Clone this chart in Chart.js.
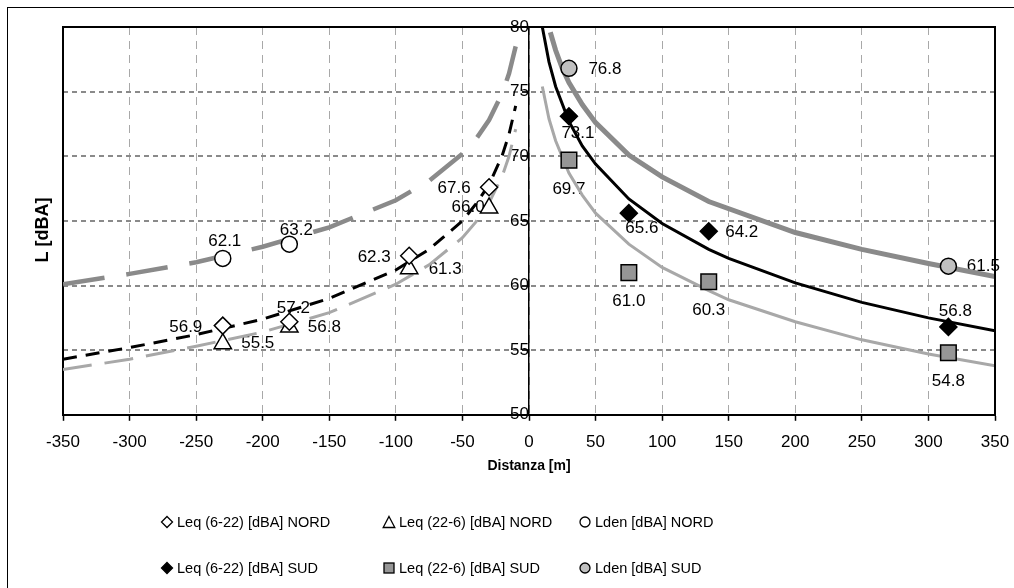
<!DOCTYPE html>
<html lang="it">
<head>
<meta charset="UTF-8">
<title>Livelli sonori in funzione della distanza</title>
<script src="https://cdn.jsdelivr.net/npm/chart.js"></script>
<style>
  body { margin: 0; background: #fff; font-family: Arial, "Liberation Sans", sans-serif; }
  .wrap { position: relative; width: 1014px; height: 588px; overflow: hidden; }
  .frame { position: absolute; left: 7px; top: 7px; width: 1100px; height: 700px; border-left: 1.5px solid #000; border-top: 1.5px solid #000; }
  .chart-box { position: absolute; left: 0; top: 0; width: 1014px; height: 588px; }
  .legend-item { position: absolute; display: flex; align-items: center; white-space: nowrap; font-size: 14.5px; color: #000; line-height: 20px; }
  .legend-item svg { margin-right: 3px; }
</style>
</head>
<body>

<div class="wrap">
  <div class="frame"></div>
  <div class="chart-box"><canvas id="chart"></canvas></div>
  <div id="legend"></div>
</div>

<script>
// measured points
const nordX = [-230, -180, -90, -30];
const leqDayNord = [56.9, 57.2, 62.3, 67.6];
const leqNightNord = [55.5, 56.8, 61.3, 66.0];
const ldenNordX = [-230, -180];
const ldenNord = [62.1, 63.2];

const sudX = [30, 75, 135, 315];
const leqDaySud = [73.1, 65.6, 64.2, 56.8];
const leqNightSud = [69.7, 61.0, 60.3, 54.8];
const ldenSudX = [30, 315];
const ldenSud = [76.8, 61.5];

// trend curves
const trendNordX = [-350, -300, -250, -200, -150, -100, -75, -50, -40, -30, -20, -15, -10];
const trendLdenNord = [60.1, 60.9, 61.8, 63.0, 64.5, 66.6, 68.1, 70.2, 71.3, 72.8, 74.9, 76.4, 78.5];
const trendLeqDayNord = [54.3, 55.2, 56.2, 57.4, 59.0, 61.2, 62.8, 65.0, 66.3, 67.8, 70.1, 71.7, 73.9];
const trendLeqNightNord = [53.5, 54.3, 55.3, 56.4, 57.9, 60.1, 61.6, 63.7, 64.9, 66.4, 68.5, 70.0, 72.1];

const trendSudX = [10, 15, 20, 30, 40, 50, 75, 100, 135, 150, 200, 250, 300, 350];
const trendLeqDaySud = [80.0, 77.3, 75.4, 72.7, 70.8, 69.4, 66.7, 64.8, 62.8, 62.1, 60.2, 58.7, 57.5, 56.5];
const trendLeqNightSud = [75.4, 72.9, 71.2, 68.7, 67.0, 65.6, 63.2, 61.4, 59.6, 58.9, 57.2, 55.8, 54.7, 53.8];
const trendLdenSudX = [16, 20, 25, 30, 40, 50, 75, 100, 135, 200, 250, 300, 350];
const trendLdenSud = [79.6, 78.2, 76.8, 75.7, 74.0, 72.6, 70.1, 68.4, 66.5, 64.1, 62.8, 61.7, 60.7];

const xTicks = { min: -350, max: 350, step: 50 };
const yTicks = { min: 50, max: 80, step: 5 };

// label offsets in px from each marker (style only)
const labelOffLdenNord = [[2, -17], [7, -14]];
const labelOffLeqDayNord = [[-37, 2], [4, -13], [-35, 2], [-35, 1]];
const labelOffLeqNightNord = [[35, 0], [35, 0], [36, 1], [-21, -1]];
const labelOffLdenSud = [[36, 1], [35, 0]];
const labelOffLeqDaySud = [[9, 17], [13, 15], [33, 1], [7, -16]];
const labelOffLeqNightSud = [[0, 29], [0, 29], [0, 29], [0, 29]];

const FONT = 'Arial, "Liberation Sans", sans-serif';
const DARK = '#8a8a8a';
const LIGHT = '#a8a8a8';

function pts(xs, ys) {
  return xs.map((x, i) => ({ x: x, y: ys[i] }));
}

function trend(xs, ys, color, width, dash) {
  return {
    data: pts(xs, ys),
    showLine: true,
    borderColor: color,
    borderWidth: width,
    borderDash: dash || [],
    pointRadius: 0,
    pointHoverRadius: 0,
    tension: 0,
    fill: false,
    order: 2
  };
}

function markers(label, xs, ys, style, radius, bg, offsets) {
  return {
    label: label,
    data: pts(xs, ys),
    showLine: false,
    pointStyle: style,
    pointRadius: radius,
    pointHoverRadius: radius,
    pointBackgroundColor: bg,
    pointBorderColor: '#000',
    pointBorderWidth: 1.5,
    labelOffsets: offsets,
    order: 1
  };
}

const pointLabels = {
  id: 'pointLabels',
  beforeDatasetsDraw(chart) {
    const ctx = chart.ctx;
    ctx.save();
    ctx.font = '17px ' + FONT;
    ctx.fillStyle = '#000';
    ctx.textAlign = 'center';
    ctx.textBaseline = 'middle';
    chart.data.datasets.forEach((ds, i) => {
      if (!ds.labelOffsets) return;
      chart.getDatasetMeta(i).data.forEach((pt, j) => {
        const off = ds.labelOffsets[j];
        ctx.fillText(ds.data[j].y.toFixed(1), pt.x + off[0], pt.y + off[1]);
      });
    });
    ctx.restore();
  }
};

// top and right edges of the plot area, plus the y title off to the left
const plotFrame = {
  id: 'plotFrame',
  afterDatasetsDraw(chart) {
    const a = chart.chartArea;
    const ctx = chart.ctx;
    ctx.save();
    ctx.strokeStyle = '#000';
    ctx.lineWidth = 2;
    ctx.beginPath();
    ctx.moveTo(a.left, a.top);
    ctx.lineTo(a.right, a.top);
    ctx.lineTo(a.right, a.bottom);
    ctx.stroke();

    ctx.translate(a.left - 20, a.top + (a.bottom - a.top) / 2 + 9);
    ctx.rotate(-Math.PI / 2);
    ctx.font = 'bold 18px ' + FONT;
    ctx.fillStyle = '#000';
    ctx.textAlign = 'center';
    ctx.textBaseline = 'middle';
    ctx.fillText('L [dBA]', 0, 0);
    ctx.restore();
  }
};

new Chart(document.getElementById('chart'), {
  type: 'scatter',
  data: {
    datasets: [
      trend(trendNordX, trendLdenNord, DARK, 4.5, [42, 22]),
      trend(trendNordX, trendLeqDayNord, '#000', 3, [14, 9]),
      trend(trendNordX, trendLeqNightNord, LIGHT, 3, [29, 13]),
      trend(trendLdenSudX, trendLdenSud, DARK, 5),
      trend(trendSudX, trendLeqDaySud, '#000', 3),
      trend(trendSudX, trendLeqNightSud, LIGHT, 3),
      markers('Lden [dBA] NORD', ldenNordX, ldenNord, 'circle', 8, '#fff', labelOffLdenNord),
      markers('Leq (6-22) [dBA] NORD', nordX, leqDayNord, 'rectRot', 8.5, '#fff', labelOffLeqDayNord),
      markers('Leq (22-6) [dBA] NORD', nordX, leqNightNord, 'triangle', 10, '#fff', labelOffLeqNightNord),
      markers('Lden [dBA] SUD', ldenSudX, ldenSud, 'circle', 8, '#c0c0c0', labelOffLdenSud),
      markers('Leq (6-22) [dBA] SUD', sudX, leqDaySud, 'rectRot', 8.5, '#000', labelOffLeqDaySud),
      markers('Leq (22-6) [dBA] SUD', sudX, leqNightSud, 'rect', 11, '#969696', labelOffLeqNightSud)
    ]
  },
  options: {
    responsive: true,
    maintainAspectRatio: false,
    animation: false,
    layout: { padding: { left: 55, top: 27, right: 19, bottom: 113 } },
    plugins: {
      legend: { display: false },
      tooltip: { enabled: false }
    },
    scales: {
      x: {
        type: 'linear',
        position: 'bottom',
        min: xTicks.min,
        max: xTicks.max,
        ticks: { stepSize: xTicks.step, color: '#000', font: { family: FONT, size: 17 }, padding: 11, maxRotation: 0 },
        grid: { color: '#a8a8a8', lineWidth: 1, tickLength: 6, tickColor: '#000', tickWidth: 1.5 },
        border: { display: true, color: '#000', width: 2, dash: [8, 6] },
        title: { display: true, text: 'Distanza [m]', color: '#000', font: { family: FONT, size: 14, weight: 'bold' }, padding: { top: -5, bottom: 0 } },
        afterFit(scale) {
          // the end labels may hang past the plot edge, as in the original
          scale.paddingLeft = 0;
          scale.paddingRight = 0;
        }
      },
      y: {
        type: 'linear',
        position: { x: 0 },
        min: yTicks.min,
        max: yTicks.max,
        ticks: { stepSize: yTicks.step, color: '#000', font: { family: FONT, size: 17 }, padding: 8 },
        grid: { color: '#8a8a8a', lineWidth: 2, tickLength: 6, tickColor: '#000', tickWidth: 1.5 },
        border: { display: true, color: '#000', width: 1.5, dash: [5, 4] }
      },
      yL: {
        type: 'linear',
        position: 'left',
        min: yTicks.min,
        max: yTicks.max,
        ticks: { display: false },
        grid: { display: false },
        border: { display: true, color: '#000', width: 2 }
      }
    }
  },
  plugins: [pointLabels, plotFrame]
});

// legend below the chart, three columns and two rows
const legendItems = [
  { text: 'Leq (6-22) [dBA] NORD', style: 'rectRot', fill: '#fff' },
  { text: 'Leq (22-6) [dBA] NORD', style: 'triangle', fill: '#fff' },
  { text: 'Lden [dBA] NORD', style: 'circle', fill: '#fff' },
  { text: 'Leq (6-22) [dBA] SUD', style: 'rectRot', fill: '#000' },
  { text: 'Leq (22-6) [dBA] SUD', style: 'rect', fill: '#969696' },
  { text: 'Lden [dBA] SUD', style: 'circle', fill: '#c0c0c0' }
];
const legendCols = [160, 382, 578];
const legendRows = [512, 558];

function markerSvg(style, fill) {
  let shape = '';
  const sw = 'stroke="#000" stroke-width="1.3"';
  if (style === 'rectRot') shape = '<polygon points="7,1.5 12.5,7 7,12.5 1.5,7" fill="' + fill + '" ' + sw + '/>';
  if (style === 'triangle') shape = '<polygon points="7,1.5 12.8,12.5 1.2,12.5" fill="' + fill + '" ' + sw + '/>';
  if (style === 'circle') shape = '<circle cx="7" cy="7" r="5" fill="' + fill + '" ' + sw + '/>';
  if (style === 'rect') shape = '<rect x="2" y="2" width="10" height="10" fill="' + fill + '" ' + sw + '/>';
  return '<svg width="14" height="14" viewBox="0 0 14 14">' + shape + '</svg>';
}

const legendBox = document.getElementById('legend');
legendItems.forEach((item, i) => {
  const el = document.createElement('div');
  el.className = 'legend-item';
  el.style.left = legendCols[i % 3] + 'px';
  el.style.top = legendRows[Math.floor(i / 3)] + 'px';
  el.innerHTML = markerSvg(item.style, item.fill) + '<span></span>';
  el.querySelector('span').textContent = item.text;
  legendBox.appendChild(el);
});
</script>

</body>
</html>
